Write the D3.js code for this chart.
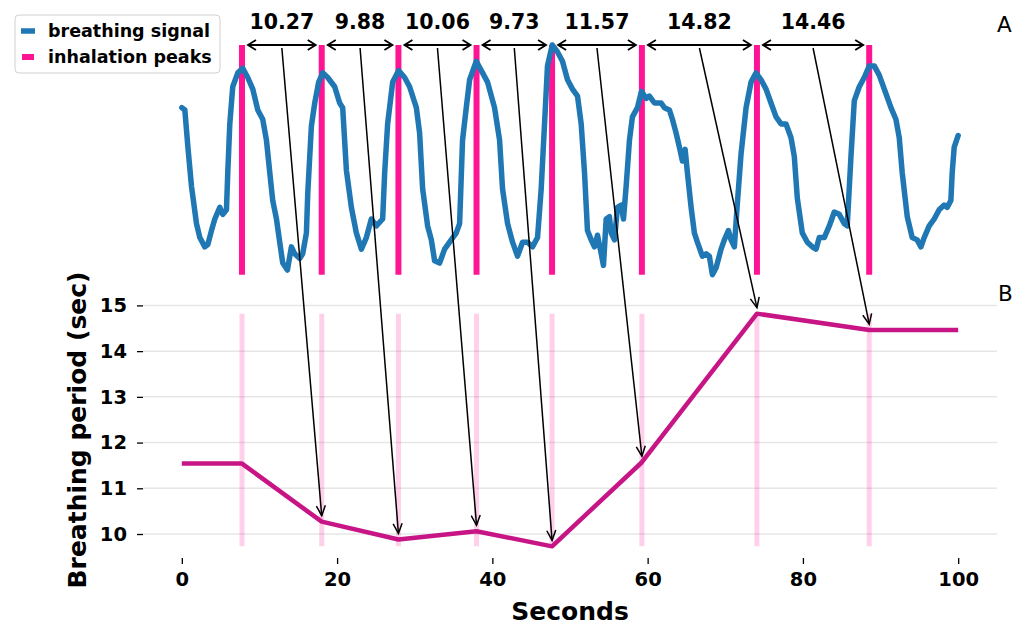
<!DOCTYPE html>
<html>
<head>
<meta charset="utf-8">
<script src="https://cdn.jsdelivr.net/npm/d3@7"></script>
<style>
  html, body { margin: 0; padding: 0; background: #fff; }
  svg { display: block; font-family: "DejaVu Sans", sans-serif; }
</style>
</head>
<body>
<svg id="chart" width="1030" height="628"></svg>
<script>
// ---------------- data ----------------
const signalTime = [0.00,0.39,0.81,1.25,1.89,2.32,2.96,3.35,3.82,4.25,
4.89,5.28,5.75,5.92,6.18,6.56,7.21,7.85,8.49,9.14,
9.78,10.42,10.90,11.33,11.71,12.19,12.61,13.00,13.60,14.12,
14.54,15.19,15.57,16.05,16.22,16.69,17.12,17.63,18.15,18.79,
19.69,20.33,20.72,21.20,21.84,22.48,23.13,23.77,24.41,25.06,
25.87,26.13,26.51,27.16,27.93,28.70,29.34,30.21,30.63,31.02,
31.66,32.14,32.56,33.20,33.85,34.49,35.35,35.78,36.16,36.64,
37.07,37.93,38.74,39.38,40.28,40.93,41.31,41.96,42.60,43.24,
43.89,44.53,45.17,45.82,46.29,46.72,47.10,47.71,48.39,49.03,
49.68,50.32,50.97,51.44,51.87,52.25,52.73,53.15,53.54,54.02,
54.31,54.66,55.08,55.30,55.73,56.11,56.59,56.89,57.23,57.66,
58.04,58.69,59.20,59.81,60.23,60.88,61.74,62.16,62.80,63.19,
63.67,64.09,64.48,64.83,65.12,65.60,66.02,66.41,67.05,67.53,
67.95,68.34,68.82,69.46,69.88,70.40,70.75,71.17,71.52,72.03,
72.68,73.32,73.96,74.61,75.25,75.89,76.54,77.18,77.82,78.47,
78.89,79.28,79.92,80.57,81.21,81.69,82.11,82.75,83.40,84.04,
84.68,85.33,85.71,86.19,86.62,87.26,87.90,88.55,89.19,89.83,
90.70,91.34,91.98,92.41,92.79,93.44,94.08,94.72,95.20,95.62,
96.27,96.91,97.55,98.20,98.58,99.06,99.23,99.49,100.0];

const signalValue = [0.73,0.72,0.55,0.39,0.23,0.17,0.13,0.14,0.20,0.25,
0.30,0.27,0.29,0.45,0.66,0.82,0.88,0.90,0.86,0.81,
0.72,0.68,0.59,0.45,0.33,0.25,0.15,0.06,0.03,0.13,
0.10,0.08,0.10,0.19,0.36,0.65,0.75,0.84,0.88,0.86,
0.82,0.75,0.73,0.46,0.30,0.19,0.12,0.17,0.25,0.22,
0.25,0.45,0.66,0.84,0.89,0.86,0.82,0.73,0.62,0.38,
0.22,0.16,0.07,0.06,0.12,0.15,0.19,0.23,0.59,0.73,
0.85,0.93,0.88,0.84,0.73,0.59,0.38,0.23,0.15,0.09,
0.15,0.15,0.13,0.17,0.38,0.66,0.91,1.00,0.97,0.93,
0.85,0.81,0.78,0.66,0.45,0.20,0.16,0.13,0.18,0.10,
0.05,0.25,0.26,0.19,0.16,0.30,0.31,0.25,0.39,0.59,
0.69,0.73,0.80,0.77,0.78,0.75,0.75,0.73,0.72,0.68,
0.62,0.56,0.50,0.55,0.45,0.30,0.19,0.15,0.09,0.10,
0.09,0.01,0.04,0.12,0.16,0.20,0.16,0.13,0.30,0.53,
0.73,0.84,0.88,0.85,0.81,0.75,0.69,0.66,0.66,0.60,
0.52,0.34,0.19,0.15,0.13,0.12,0.17,0.17,0.22,0.28,
0.27,0.23,0.22,0.52,0.76,0.82,0.86,0.91,0.91,0.87,
0.79,0.73,0.68,0.60,0.45,0.26,0.17,0.16,0.13,0.17,
0.22,0.25,0.29,0.31,0.30,0.33,0.45,0.56,0.61];

const peakTimes = [7.75, 18.02, 27.90, 37.96, 47.69, 59.26, 74.08, 88.54];
// breathing period at each peak (first one filled with the mean of the rest)
const periods = [11.54, 10.27, 9.88, 10.06, 9.73, 11.57, 14.82, 14.46];
const periodLabels = ["10.27", "9.88", "10.06", "9.73", "11.57", "14.82", "14.46"];
const rateTime = [0, ...peakTimes, 100];
const rateValue = [periods[0], ...periods, periods[periods.length - 1]];

const xTicks = [0, 20, 40, 60, 80, 100];
const yTicks = [10, 11, 12, 13, 14, 15];
const legendLabels = ["breathing signal", "inhalation peaks"];

// ---------------- setup ----------------
const svg = d3.select("#chart");
const BLUE = "#1f77b4", PINK = "#ff1493", MAGENTA = "#c71585";

const x = d3.scaleLinear().domain([-5, 105]).range([143, 997]);
const rMin = d3.min(rateValue), rMax = d3.max(rateValue), rPad = (rMax - rMin) * 0.05;
const yB = d3.scaleLinear().domain([rMin - rPad, rMax + rPad]).range([558, 302]);
const yA = d3.scaleLinear().domain([0, 1]).range([277, 45]);

// ---------------- bottom panel ----------------
const gB = svg.append("g");
gB.selectAll("line.grid").data(yTicks).join("line")
  .attr("x1", 143).attr("x2", 997)
  .attr("y1", d => yB(d)).attr("y2", d => yB(d))
  .attr("stroke", "#e6e6e6").attr("stroke-width", 1.5);

gB.selectAll("line.pk").data(peakTimes).join("line")
  .attr("x1", d => x(d)).attr("x2", d => x(d))
  .attr("y1", yB(rMin)).attr("y2", yB(rMax))
  .attr("stroke", PINK).attr("stroke-opacity", 0.2).attr("stroke-width", 5);

const rateData = d3.zip(rateTime, rateValue);
gB.append("path").datum(rateData)
  .attr("d", d3.line().x(d => x(d[0])).y(d => yB(d[1])))
  .attr("fill", "none").attr("stroke", MAGENTA).attr("stroke-width", 4.5)
  .attr("stroke-linejoin", "round");

// axes
const xAxis = d3.axisBottom(x).tickValues(xTicks).tickSize(6).tickPadding(8)
  .tickFormat(d3.format("d"));
const gx = svg.append("g").attr("transform", "translate(0,558)").call(xAxis);
gx.select(".domain").remove();
gx.selectAll("line").attr("stroke", "#000").attr("stroke-width", 1.3);
gx.selectAll("text").attr("font-size", "19.5px").attr("font-weight", "bold")
  .attr("font-family", "DejaVu Sans").attr("fill", "#000");

const yAxis = d3.axisLeft(yB).tickValues(yTicks).tickSize(6).tickPadding(10)
  .tickFormat(d3.format("d"));
const gy = svg.append("g").attr("transform", "translate(143,0)").call(yAxis);
gy.select(".domain").remove();
gy.selectAll("line").attr("stroke", "#000").attr("stroke-width", 1.3);
gy.selectAll("text").attr("font-size", "19.5px").attr("font-weight", "bold")
  .attr("font-family", "DejaVu Sans").attr("fill", "#000");

svg.append("text").attr("x", 570).attr("y", 620).attr("text-anchor", "middle")
  .attr("font-size", "25px").attr("font-weight", "bold").text("Seconds");
svg.append("text").attr("transform", "translate(86,430) rotate(-90)")
  .attr("text-anchor", "middle").attr("font-size", "25px").attr("font-weight", "bold")
  .text("Breathing period (sec)");

// ---------------- top panel ----------------
const gA = svg.append("g");
const sMin = d3.min(signalValue), sMax = d3.max(signalValue);
gA.selectAll("line.pk").data(peakTimes).join("line")
  .attr("x1", d => x(d)).attr("x2", d => x(d))
  .attr("y1", yA(sMin)).attr("y2", yA(sMax))
  .attr("stroke", PINK).attr("stroke-width", 6);

const sigData = d3.zip(signalTime, signalValue);
gA.append("path").datum(sigData)
  .attr("d", d3.line().x(d => x(d[0])).y(d => yA(d[1])))
  .attr("fill", "none").attr("stroke", BLUE).attr("stroke-width", 5.5)
  .attr("stroke-linejoin", "round").attr("stroke-linecap", "round");

// ---------------- annotations ----------------
function head(x1, y1, x2, y2, len, hw) {
  const a = Math.atan2(y2 - y1, x2 - x1);
  const bx = x2 - len * Math.cos(a), by = y2 - len * Math.sin(a);
  const px = -Math.sin(a) * hw, py = Math.cos(a) * hw;
  return `M${bx + px},${by + py}L${x2},${y2}L${bx - px},${by - py}`;
}
const gN = svg.append("g").attr("fill", "none").attr("stroke", "#000");
periodLabels.forEach((lab, i) => {
  const xa = x(peakTimes[i]) + 6, xb = x(peakTimes[i + 1]) - 6, yy = 45;
  const xm = (x(peakTimes[i]) + x(peakTimes[i + 1])) / 2;
  gN.append("line").attr("x1", xa).attr("x2", xb).attr("y1", yy).attr("y2", yy)
    .attr("stroke-width", 1.8);
  gN.append("path").attr("d", head(xb, yy, xa, yy, 8, 5)).attr("stroke-width", 1.8);
  gN.append("path").attr("d", head(xa, yy, xb, yy, 8, 5)).attr("stroke-width", 1.8);
  svg.append("text").attr("x", xm).attr("y", 29).attr("text-anchor", "middle")
    .attr("font-size", "20.5px").attr("font-weight", "bold").text(lab);
  // diagonal arrow to the period curve
  const tx = x(peakTimes[i + 1]), ty = yB(periods[i + 1]) - 6;
  gN.append("line").attr("x1", xm).attr("y1", 48).attr("x2", tx).attr("y2", ty)
    .attr("stroke-width", 1.5);
  gN.append("path").attr("d", head(xm, 48, tx, ty, 10, 4.5)).attr("stroke-width", 1.5);
});

// ---------------- legend ----------------
const gL = svg.append("g");
gL.append("rect").attr("x", 15).attr("y", 15).attr("width", 205).attr("height", 58)
  .attr("rx", 4).attr("fill", "#fff").attr("fill-opacity", 0.8)
  .attr("stroke", "#d0d0d0").attr("stroke-width", 1);
gL.append("line").attr("x1", 21).attr("x2", 35).attr("y1", 31).attr("y2", 31)
  .attr("stroke", BLUE).attr("stroke-width", 5.5);
gL.append("line").attr("x1", 22).attr("x2", 34).attr("y1", 57).attr("y2", 57)
  .attr("stroke", PINK).attr("stroke-width", 6);
gL.selectAll("text").data(legendLabels).join("text")
  .attr("x", 48).attr("y", (d, i) => 37 + i * 26)
  .attr("font-size", "17.5px").attr("font-weight", "bold").text(d => d);

// panel letters
svg.append("text").attr("x", 997).attr("y", 32).attr("font-size", "21.5px").text("A");
svg.append("text").attr("x", 998).attr("y", 301).attr("font-size", "21.5px").text("B");
</script>
</body>
</html>
